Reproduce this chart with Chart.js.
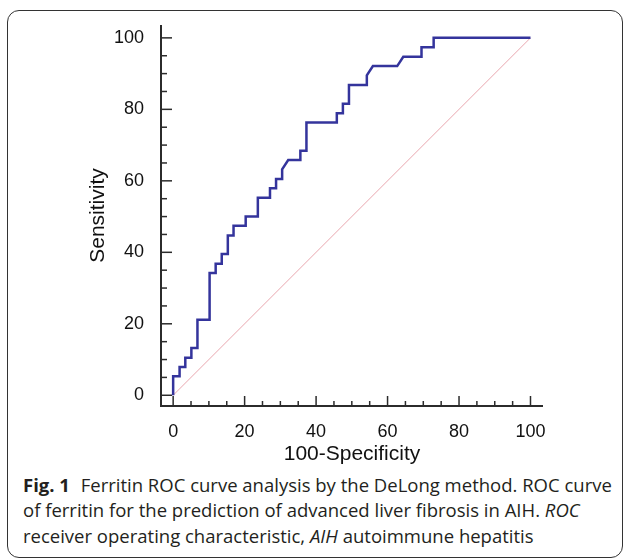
<!DOCTYPE html>
<html>
<head>
<meta charset="utf-8">
<script src="https://cdn.jsdelivr.net/npm/chart.js@4.4.1/dist/chart.umd.min.js"></script>
<style>
  html, body { margin: 0; padding: 0; background: #fff; }
  body { width: 624px; height: 559px; position: relative; overflow: hidden; }
  #frame {
    position: absolute; left: 7px; top: 10px; width: 616px; height: 548px;
    border: 1px solid #333; border-radius: 12px; box-sizing: border-box;
  }
  #wrap { position: absolute; left: 0; top: 0; width: 624px; height: 470px; }
  #caption {
    position: absolute; left: 23px; top: 471.5px;
    font-family: 'Open Sans', 'Noto Sans', sans-serif; font-size: 18.5px;
    line-height: 25.7px; color: #231f20; white-space: nowrap;
  }
  #caption b { font-weight: 700; margin-right: 6px; }
</style>
</head>
<body>
<div id="frame"></div>
<div id="wrap"><canvas id="roc" width="624" height="470"></canvas></div>
<div id="caption">
  <div><b>Fig. 1</b> Ferritin ROC curve analysis by the DeLong method. ROC curve</div>
  <div>of ferritin for the prediction of advanced liver fibrosis in AIH. <i>ROC</i></div>
  <div>receiver operating characteristic, <i>AIH</i> autoimmune hepatitis</div>
</div>

<script>
// --------------------------------
// || Data
// --------------------------------

// ROC curve vertices (100-Specificity, Sensitivity)
const fpr = [0, 0, 1.8, 1.8, 3.4, 3.4, 5.1, 5.1, 6.8, 6.8, 10.2, 10.2, 11.9, 11.9,
    13.6, 13.6, 15.3, 15.3, 16.9, 16.9, 20.3, 20.3, 23.7, 23.7, 27.1, 27.1, 28.8, 28.8,
    30.5, 30.5, 32.2, 35.6, 35.6, 37.3, 37.3, 45.8, 45.8, 47.5, 47.5, 49.2, 49.2, 54.2,
    54.2, 55.9, 62.7, 64.4, 69.5, 69.5, 72.9, 72.9, 100];
const tpr = [0, 5.3, 5.3, 7.9, 7.9, 10.5, 10.5, 13.2, 13.2, 21.1, 21.1, 34.2, 34.2, 36.8,
    36.8, 39.5, 39.5, 44.7, 44.7, 47.4, 47.4, 50, 50, 55.3, 55.3, 57.9, 57.9, 60.5,
    60.5, 63.2, 65.8, 65.8, 68.4, 68.4, 76.3, 76.3, 78.9, 78.9, 81.6, 81.6, 86.8, 86.8,
    89.5, 92.1, 92.1, 94.7, 94.7, 97.4, 97.4, 100, 100];

// reference diagonal
const diagX = [0, 100];
const diagY = [0, 100];

const tickVals = [0, 20, 40, 60, 80, 100];
const minorStep = 5;

const axisFont = 'Liberation Sans, Arial, sans-serif';

// --------------------------------
// || Plugins
// --------------------------------

// axis lines + ticks pointing into the plot, like the original figure
const innerTicks = {
    id: 'innerTicks',
    afterDraw(chart) {
        const {ctx, chartArea: area, scales: {x, y}} = chart;
        const left = Math.round(area.left);
        const bottom = Math.round(area.bottom);
        ctx.save();
        ctx.strokeStyle = '#2b2b2b';
        ctx.lineCap = 'butt';

        ctx.lineWidth = 2;
        ctx.beginPath();
        ctx.moveTo(left, Math.round(area.top));
        ctx.lineTo(left, bottom);
        ctx.lineTo(Math.round(area.right), bottom);
        ctx.stroke();

        ctx.lineWidth = 1.5;
        for (let v = 0; v <= 100; v += minorStep) {
            const major = v % 20 === 0;
            const px = x.getPixelForValue(v);
            ctx.beginPath();
            ctx.moveTo(px, bottom);
            ctx.lineTo(px, bottom - (major ? 10 : 5));
            ctx.stroke();

            const py = y.getPixelForValue(v);
            ctx.beginPath();
            ctx.moveTo(left, py);
            ctx.lineTo(left + (major ? 11 : 6), py);
            ctx.stroke();
        }
        ctx.restore();
    }
};

// --------------------------------
// || Chart
// --------------------------------

const rocPoints = fpr.map((v, i) => ({x: v, y: tpr[i]}));
const diagPoints = diagX.map((v, i) => ({x: v, y: diagY[i]}));

new Chart(document.getElementById('roc'), {
    type: 'scatter',
    data: {
        datasets: [{
            data: rocPoints,
            showLine: true,
            borderColor: '#34349c',
            borderWidth: 2.5,
            pointRadius: 0,
            tension: 0
        }, {
            data: diagPoints,
            showLine: true,
            borderColor: '#e9a6ae',
            borderWidth: 1,
            pointRadius: 0
        }]
    },
    options: {
        responsive: false,
        animation: false,
        layout: {
            padding: {left: 86, right: 81, top: 25, bottom: 3}
        },
        plugins: {
            legend: {display: false},
            tooltip: {enabled: false}
        },
        scales: {
            x: {
                type: 'linear',
                min: -3.4,
                max: 103.5,
                afterBuildTicks: s => { s.ticks = tickVals.map(v => ({value: v})); },
                afterFit: s => { s.height = 61; },
                grid: {display: false},
                border: {display: false},
                ticks: {
                    font: {family: axisFont, size: 18},
                    color: '#111',
                    padding: 7,
                    maxRotation: 0
                },
                title: {
                    display: true,
                    text: '100-Specificity',
                    font: {family: axisFont, size: 21},
                    color: '#111',
                    padding: 0
                }
            },
            y: {
                type: 'linear',
                min: -3.0,
                max: 103.6,
                afterBuildTicks: s => { s.ticks = tickVals.map(v => ({value: v})); },
                afterFit: s => { s.width = 75; },
                grid: {display: false},
                border: {display: false},
                ticks: {
                    font: {family: axisFont, size: 18},
                    color: '#111',
                    padding: 9
                },
                title: {
                    display: true,
                    text: 'Sensitivity',
                    font: {family: axisFont, size: 21},
                    color: '#111',
                    padding: 0
                }
            }
        }
    },
    plugins: [innerTicks]
});
</script>
</body>
</html>
